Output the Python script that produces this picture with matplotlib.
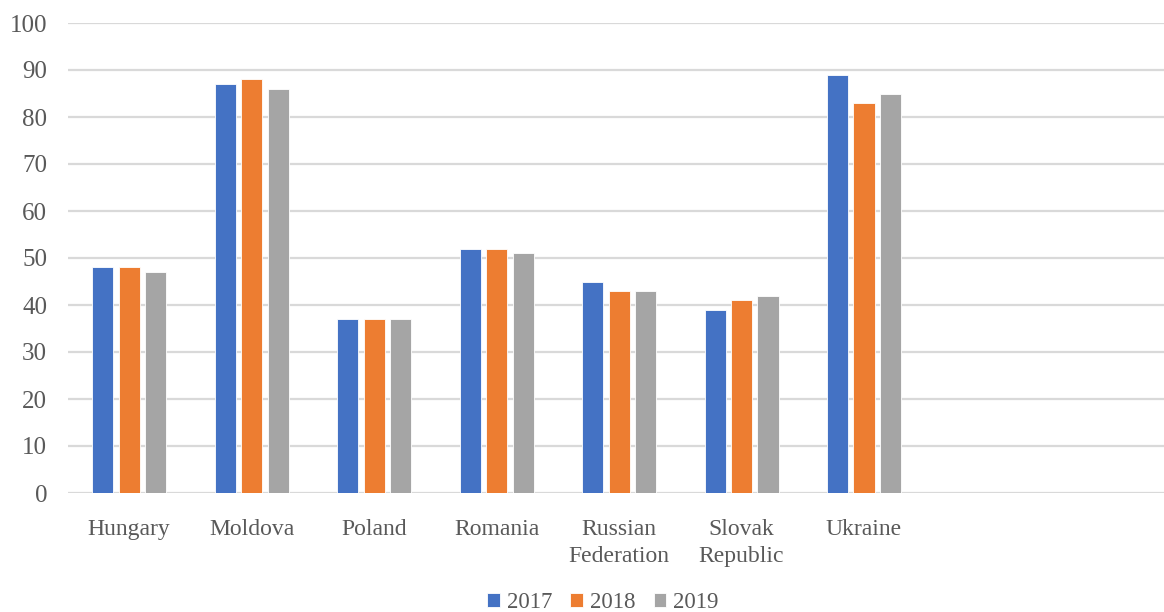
import matplotlib
matplotlib.use("Agg")
import matplotlib.pyplot as plt
import numpy as np

countries = ["Hungary", "Moldova", "Poland", "Romania", "Russian\nFederation",
             "Slovak\nRepublic", "Ukraine", "", ""]
years = ["2017", "2018", "2019"]
v2017 = [48, 87, 37, 52, 45, 39, 89]
v2018 = [48, 88, 37, 52, 43, 41, 83]
v2019 = [47, 86, 37, 51, 43, 42, 85]
colors = ["#4472c4", "#ed7d31", "#a5a5a5"]

plt.rcParams["font.family"] = ["Liberation Serif", "DejaVu Serif"]
text_col = "#595959"

fig = plt.figure(figsize=(11.64, 6.12), dpi=100)
ax = fig.add_axes([68 / 1164, 1 - 493 / 612, 1 - 68 / 1164, (493 - 23) / 612])

x = np.arange(len(v2017))
w = 0.172
step = 0.216
for i, (vals, c, lab) in enumerate(zip([v2017, v2018, v2019], colors, years)):
    ax.bar(x + (i - 1) * step, vals, width=w, color=c, label=lab,
           edgecolor="white", linewidth=0.6, zorder=3)

ax.set_xlim(-0.5, 8.45)
ax.set_ylim(0, 100)
ax.set_yticks(range(0, 101, 10))
ax.set_xticks(range(len(countries)))
ax.set_xticklabels(countries, fontsize=17, color=text_col, linespacing=1.35)
ax.tick_params(axis="y", labelsize=18, labelcolor=text_col, length=0, pad=15)
ax.tick_params(axis="x", length=0, pad=19)
ax.grid(axis="y", color="#d9d9d9", linewidth=1.6, zorder=0)
for s in ax.spines.values():
    s.set_visible(False)

leg = fig.legend(loc="lower center", bbox_to_anchor=(0.518, -0.035), ncol=3,
                 frameon=False, fontsize=16.5, handlelength=0.55, handleheight=0.55,
                 handletextpad=0.3, columnspacing=0.8)
for t in leg.get_texts():
    t.set_color(text_col)

fig.savefig("out.png", dpi=100)
plt.close()
